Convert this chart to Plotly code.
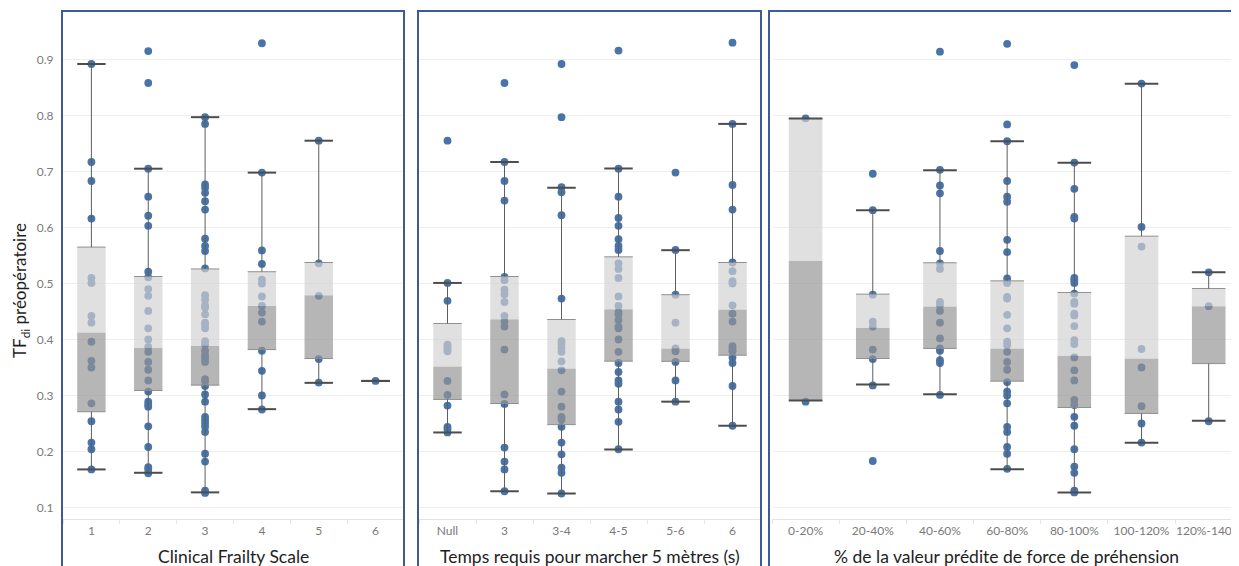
import plotly.graph_objects as go

# ---------------- data ----------------
y_ticks = [0.1, 0.2, 0.3, 0.4, 0.5, 0.6, 0.7, 0.8, 0.9]
y_title = "TF<sub>di</sub> préopératoire"

# Panel 1 : Clinical Frailty Scale
cfs_title = "Clinical Frailty Scale"
cfs_cats = ["1", "2", "3", "4", "5", "6"]
cfs_points = [
    [0.892, 0.717, 0.683, 0.616, 0.510, 0.501, 0.442, 0.430, 0.396, 0.362, 0.350, 0.286, 0.254, 0.216, 0.204, 0.168],
    [0.915, 0.858, 0.705, 0.655, 0.621, 0.603, 0.521, 0.511, 0.490, 0.478, 0.451, 0.420, 0.400, 0.387, 0.378, 0.360,
     0.346, 0.327, 0.307, 0.289, 0.284, 0.280, 0.245, 0.208, 0.172, 0.168, 0.161],
    [0.797, 0.785, 0.677, 0.671, 0.662, 0.647, 0.632, 0.580, 0.567, 0.558, 0.527, 0.479, 0.471, 0.461, 0.457, 0.445,
     0.430, 0.426, 0.420, 0.397, 0.391, 0.380, 0.372, 0.366, 0.360, 0.329, 0.326, 0.317, 0.302, 0.289, 0.262, 0.256,
     0.250, 0.244, 0.235, 0.196, 0.182, 0.130, 0.126],
    [0.929, 0.698, 0.559, 0.535, 0.507, 0.500, 0.477, 0.460, 0.448, 0.432, 0.380, 0.344, 0.300, 0.275],
    [0.755, 0.536, 0.478, 0.365, 0.323],
    [0.326],
]
cfs_q1 = [0.271, 0.309, 0.3185, 0.382, 0.366, 0.326]
cfs_med = [0.4125, 0.385, 0.3887, 0.460, 0.479, 0.326]
cfs_q3 = [0.565, 0.5125, 0.526, 0.521, 0.5375, 0.326]
cfs_lo = [0.168, 0.162, 0.127, 0.2756, 0.3226, 0.326]
cfs_hi = [0.892, 0.705, 0.797, 0.698, 0.755, 0.326]

# Panel 2 : Temps requis pour marcher 5 mètres
walk_title = "Temps requis pour marcher 5 mètres (s)"
walk_cats = ["Null", "3", "3-4", "4-5", "5-6", "6"]
walk_points = [
    [0.755, 0.501, 0.469, 0.391, 0.387, 0.383, 0.379, 0.326, 0.301, 0.282, 0.244, 0.240, 0.234],
    [0.858, 0.717, 0.683, 0.648, 0.512, 0.506, 0.489, 0.481, 0.467, 0.442, 0.432, 0.423, 0.382, 0.302, 0.285,
     0.207, 0.182, 0.168, 0.129],
    [0.892, 0.797, 0.672, 0.663, 0.622, 0.473, 0.397, 0.391, 0.384, 0.378, 0.361, 0.345, 0.307, 0.280, 0.262,
     0.257, 0.244, 0.216, 0.195, 0.171, 0.162, 0.125],
    [0.916, 0.705, 0.655, 0.617, 0.603, 0.579, 0.567, 0.560, 0.536, 0.526, 0.510, 0.477, 0.460, 0.449, 0.445,
     0.435, 0.423, 0.420, 0.400, 0.378, 0.358, 0.342, 0.327, 0.321, 0.289, 0.275, 0.253, 0.204],
    [0.698, 0.560, 0.480, 0.430, 0.384, 0.379, 0.360, 0.327, 0.289],
    [0.930, 0.785, 0.676, 0.632, 0.5375, 0.522, 0.504, 0.500, 0.461, 0.446, 0.432, 0.388, 0.383, 0.379, 0.368,
     0.358, 0.317, 0.246],
]
walk_q1 = [0.293, 0.2857, 0.248, 0.3613, 0.361, 0.372]
walk_med = [0.352, 0.4363, 0.348, 0.454, 0.384, 0.4536]
walk_q3 = [0.4286, 0.5125, 0.4357, 0.5476, 0.480, 0.5375]
walk_lo = [0.234, 0.129, 0.125, 0.2036, 0.289, 0.246]
walk_hi = [0.501, 0.717, 0.671, 0.7054, 0.5595, 0.785]

# Panel 3 : % de la valeur prédite de force de préhension
grip_title = "% de la valeur prédite de force de préhension"
grip_cats = ["0-20%", "20-40%", "40-60%", "60-80%", "80-100%", "100-120%", "120%-140%"]
grip_points = [
    [0.795, 0.289],
    [0.696, 0.631, 0.480, 0.432, 0.423, 0.382, 0.365, 0.318, 0.183],
    [0.914, 0.703, 0.675, 0.661, 0.558, 0.536, 0.526, 0.467, 0.461, 0.451, 0.430, 0.402, 0.384, 0.380, 0.363,
     0.358, 0.301],
    [0.928, 0.784, 0.754, 0.683, 0.655, 0.646, 0.578, 0.556, 0.509, 0.501, 0.476, 0.473, 0.444, 0.420, 0.396,
     0.390, 0.378, 0.360, 0.346, 0.324, 0.307, 0.300, 0.286, 0.244, 0.235, 0.208, 0.196, 0.169],
    [0.890, 0.716, 0.669, 0.619, 0.616, 0.510, 0.506, 0.501, 0.482, 0.467, 0.464, 0.446, 0.443, 0.424, 0.399,
     0.392, 0.368, 0.345, 0.327, 0.292, 0.283, 0.262, 0.246, 0.204, 0.173, 0.162, 0.130, 0.127],
    [0.857, 0.601, 0.566, 0.383, 0.350, 0.281, 0.250, 0.216],
    [0.520, 0.4595, 0.254],
]
grip_q1 = [0.291, 0.366, 0.384, 0.3256, 0.2786, 0.268, 0.357]
grip_med = [0.5405, 0.421, 0.459, 0.384, 0.371, 0.366, 0.4595]
grip_q3 = [0.7946, 0.481, 0.537, 0.5047, 0.484, 0.5845, 0.491]
grip_lo = [0.291, 0.3196, 0.3024, 0.1685, 0.127, 0.2155, 0.2548]
grip_hi = [0.7946, 0.631, 0.7024, 0.754, 0.7155, 0.8565, 0.520]

# ---------------- styling / layout ----------------
W, H = 1239, 566
OFF = 8  # the page body margin shifts the figure by 8 px
BLUE = "#4874a9"
LIGHT_BOX = "rgba(210,210,210,0.68)"
DARK_BOX = "rgba(147,147,147,0.68)"
BORDER = "#3d5b9b"
GRID = "#efefef"
TICK_COL = "#7a7a7a"
FONT = "Lato"
HALF_W = 0.25


def px_x(p):
    # page pixel -> paper fraction
    return (p - OFF) / W


def px_y(p):
    return 1 - (p - OFF) / H


panels = [
    dict(cats=cfs_cats, pts=cfs_points, q1=cfs_q1, med=cfs_med, q3=cfs_q3, lo=cfs_lo, hi=cfs_hi,
         title=cfs_title, dom=(63, 404), rng=(-0.5, 5.5), border=(62, 404), tcx=233),
    dict(cats=walk_cats, pts=walk_points, q1=walk_q1, med=walk_med, q3=walk_q3, lo=walk_lo, hi=walk_hi,
         title=walk_title, dom=(419, 761), rng=(-0.5, 5.5), border=(418, 761), tcx=590),
    dict(cats=grip_cats, pts=grip_points, q1=grip_q1, med=grip_med, q3=grip_q3, lo=grip_lo, hi=grip_hi,
         title=grip_title, dom=(772, 1247), rng=(-0.5, 6.57), border=(769, 1258), tcx=1006),
]

fig = go.Figure()
y_dom = [px_y(519), px_y(11)]
y_rng = [0.9 - (519 - 59.5) / 560, 0.9 + (59.5 - 11) / 560]

layout = dict(
    width=W, height=H, margin=dict(l=0, r=0, t=0, b=0),
    plot_bgcolor="white", paper_bgcolor="white", showlegend=False,
    font=dict(family=FONT),
)
shapes = []
annotations = []

for k, p in enumerate(panels):
    xa = "x" if k == 0 else f"x{k + 1}"
    ya = "y" if k == 0 else f"y{k + 1}"
    n = len(p["cats"])

    # points
    xs, ys = [], []
    for i, pts in enumerate(p["pts"]):
        xs += [i] * len(pts)
        ys += pts
    fig.add_trace(go.Scatter(x=xs, y=ys, mode="markers", xaxis=xa, yaxis=ya,
                             marker=dict(size=7.8, color=BLUE, line=dict(width=0)),
                             hoverinfo="y"))

    # boxes: lower (q1 -> median) dark, upper (median -> q3) light
    for lo_key, hi_key, col in (("q1", "med", DARK_BOX), ("med", "q3", LIGHT_BOX)):
        bx, by = [], []
        for i in range(n):
            a, b = p[lo_key][i], p[hi_key][i]
            if b - a <= 0:
                continue
            bx += [i - HALF_W, i + HALF_W, i + HALF_W, i - HALF_W, i - HALF_W, None]
            by += [a, a, b, b, a, None]
        fig.add_trace(go.Scatter(x=bx, y=by, mode="lines", fill="toself", fillcolor=col,
                                 line=dict(width=0), xaxis=xa, yaxis=ya, hoverinfo="skip"))

    # box edges (q1 and q3)
    ex, ey = [], []
    for i in range(n):
        for v in (p["q1"][i], p["q3"][i]):
            ex += [i - HALF_W, i + HALF_W, None]
            ey += [v, v, None]
    fig.add_trace(go.Scatter(x=ex, y=ey, mode="lines", line=dict(color="#8f8f8f", width=1),
                             xaxis=xa, yaxis=ya, hoverinfo="skip"))

    # whiskers
    wx, wy = [], []
    for i in range(n):
        wx += [i, i, None, i, i, None]
        wy += [p["q3"][i], p["hi"][i], None, p["q1"][i], p["lo"][i], None]
    fig.add_trace(go.Scatter(x=wx, y=wy, mode="lines", line=dict(color="#5e5e5e", width=1),
                             xaxis=xa, yaxis=ya, hoverinfo="skip"))

    # caps
    cx, cy = [], []
    for i in range(n):
        for v in (p["lo"][i], p["hi"][i]):
            cx += [i - HALF_W, i + HALF_W, None]
            cy += [v, v, None]
    fig.add_trace(go.Scatter(x=cx, y=cy, mode="lines", line=dict(color="#4d4d4d", width=2),
                             xaxis=xa, yaxis=ya, hoverinfo="skip"))

    xkey = "xaxis" if k == 0 else f"xaxis{k + 1}"
    ykey = "yaxis" if k == 0 else f"yaxis{k + 1}"
    layout[xkey] = dict(
        domain=[px_x(p["dom"][0]), min(1.0, px_x(p["dom"][1]))],
        range=list(p["rng"]), anchor=ya,
        tickmode="array", tickvals=list(range(n)), ticktext=p["cats"],
        ticklabeloverflow="allow",
        showgrid=False, zeroline=False,
        showline=True, linecolor="#e3e3e3", linewidth=1,
        ticks="outside", ticklen=1, tickcolor="rgba(0,0,0,0)",
        minor=dict(tickmode="array", tickvals=[i + 0.5 for i in range(-1, n)],
                   ticks="outside", ticklen=4, tickcolor="#e6e6e6", showgrid=False),
        tickfont=dict(family=FONT, size=12, color=TICK_COL),
        fixedrange=True,
    )
    layout[ykey] = dict(
        domain=y_dom, range=y_rng, anchor=xa,
        tickmode="array", tickvals=y_ticks, ticktext=[f"{v:.1f}" for v in y_ticks],
        showgrid=True, gridcolor=GRID, gridwidth=1, zeroline=False, showline=False,
        showticklabels=(k == 0),
        ticks="outside" if k == 0 else "", ticklen=6, tickcolor="rgba(0,0,0,0)",
        tickfont=dict(family=FONT, size=12, color=TICK_COL),
        fixedrange=True,
    )

    # panel border
    shapes.append(dict(type="rect", xref="paper", yref="paper",
                       x0=px_x(p["border"][0]), x1=px_x(p["border"][1]),
                       y0=-0.05, y1=px_y(11),
                       line=dict(color=BORDER, width=2), fillcolor="rgba(0,0,0,0)", layer="above"))

    # axis title
    annotations.append(dict(text=p["title"], xref="paper", yref="paper",
                            x=px_x(p["tcx"]), y=px_y(556), xanchor="center", yanchor="middle",
                            showarrow=False, font=dict(family=FONT, size=17.5, color="#1e1e1e")))

annotations.append(dict(text=y_title, xref="paper", yref="paper", x=px_x(21), y=px_y(291),
                        xanchor="center", yanchor="middle", textangle=-90, showarrow=False,
                        font=dict(family=FONT, size=17, color="#1e1e1e")))

layout["shapes"] = shapes
layout["annotations"] = annotations
fig.update_layout(**layout)

fig.write_html("out.html")
